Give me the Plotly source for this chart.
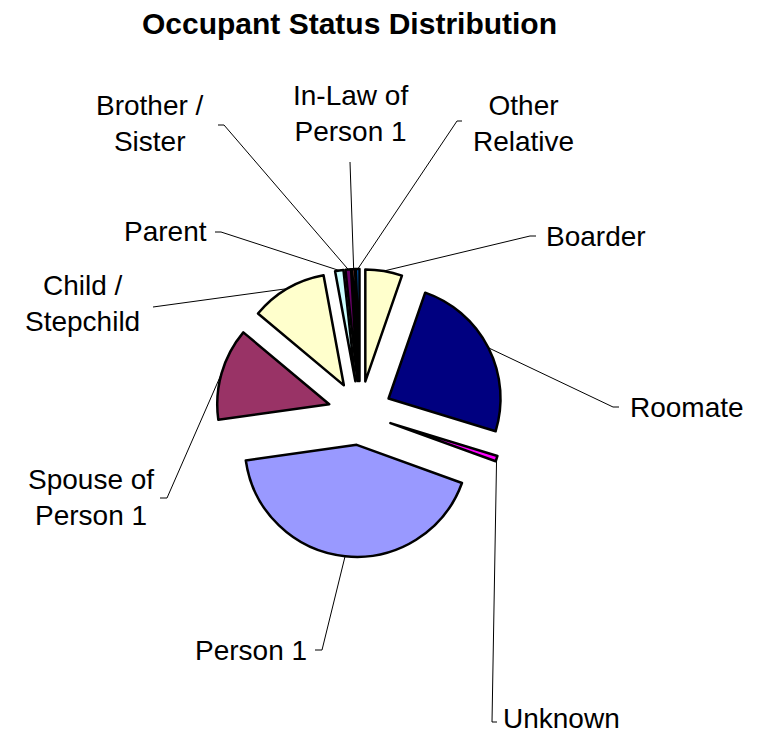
import math
import plotly.graph_objects as go

# ---- data (percent of occupants) ----
categories = ["Person 1", "Spouse of Person 1", "Child / Stepchild", "Parent",
              "Brother / Sister", "In-Law of Person 1", "Other Relative",
              "Boarder", "Roomate", "Unknown"]
values = [42.2, 13.3, 11.0, 1.2, 0.8, 0.4, 0.5, 5.3, 24.4, 0.8]
colors = ["#9999FF", "#993366", "#FFFFCC", "#CCFFFF", "#660066", "#FF8080",
          "#0066CC", "#FFFFCC", "#000080", "#FF00FF"]
label_text = ["Person 1", "Spouse of<br>Person 1", "Child /<br>Stepchild", "Parent",
              "Brother /<br>Sister", "In-Law of<br>Person 1", "Other<br>Relative",
              "Boarder", "Roomate", "Unknown"]

# ---- layout geometry (pixels) ----
W, H = 758, 735
CX, CY = 360, 413          # pie centre
HALF = 144                 # half of the pie domain
PULL = 0.286
R = HALF / (1 + PULL)

total = sum(values)
# first slice (Boarder) at 12 o'clock
start_idx = categories.index("Boarder")
rotation = -sum(values[:start_idx]) / total * 360 + 360

# label positions (center of text) and leader-line end points (label side)
label_pos = {
    "Person 1": (251, 650),
    "Spouse of Person 1": (91, 497),
    "Child / Stepchild": (82, 304),
    "Parent": (165, 231),
    "Brother / Sister": (150, 124),
    "In-Law of Person 1": (350, 113),
    "Other Relative": (523, 124),
    "Boarder": (596, 236),
    "Roomate": (687, 407),
    "Unknown": (561, 718),
}
leader_end = {
    "Person 1": [(322, 650), (315, 650)],
    "Spouse of Person 1": [(167, 498), (160, 498)],
    "Child / Stepchild": [(153, 307)],
    "Parent": [(221, 232), (215, 232)],
    "Brother / Sister": [(224, 125), (218, 125)],
    "In-Law of Person 1": [(350, 162)],
    "Other Relative": [(457, 121), (462, 121)],
    "Boarder": [(530, 236), (536, 236)],
    "Roomate": [(613, 407), (619, 407)],
    "Unknown": [(492, 722), (497, 722)],
}


def px(x):
    return x / W


def py(y):
    return 1 - y / H


fig = go.Figure(go.Pie(
    labels=categories,
    values=values,
    sort=False,
    direction="clockwise",
    rotation=rotation,
    pull=[PULL] * len(values),
    textinfo="none",
    hoverinfo="label+percent",
    marker=dict(colors=colors, line=dict(color="black", width=2.5)),
    domain=dict(x=[px(CX - HALF), px(CX + HALF)], y=[py(CY + HALF), py(CY - HALF)]),
    showlegend=False,
))

shapes = []
annotations = []
cum = 0.0
font = dict(family="Liberation Sans, Arial, sans-serif", size=28, color="black")
for cat, v, txt in zip(categories, values, label_text):
    mid = rotation + (cum + v / 2) / total * 360
    cum += v
    a = math.radians(mid)
    sx = CX + R * (1 + PULL) * math.sin(a)
    sy = CY - R * (1 + PULL) * math.cos(a)
    pts = [(sx, sy)] + leader_end[cat]
    for (x0, y0), (x1, y1) in zip(pts[:-1], pts[1:]):
        shapes.append(dict(type="line", xref="paper", yref="paper",
                           x0=px(x0), y0=py(y0), x1=px(x1), y1=py(y1),
                           line=dict(color="black", width=1)))
    lx, ly = label_pos[cat]
    annotations.append(dict(text=txt, x=px(lx), y=py(ly), xref="paper", yref="paper",
                            xanchor="center", yanchor="middle", showarrow=False,
                            font=font, align="center"))

annotations.append(dict(text="<b>Occupant Status Distribution</b>", x=px(349), y=py(24),
                        xref="paper", yref="paper", xanchor="center", yanchor="middle",
                        showarrow=False,
                        font=dict(family="Liberation Sans, Arial, sans-serif", size=30,
                                  color="black")))

fig.update_layout(
    width=W, height=H,
    margin=dict(l=0, r=0, t=0, b=0),
    paper_bgcolor="white", plot_bgcolor="white",
    shapes=shapes, annotations=annotations,
)
fig.write_html("out.html", config={"displayModeBar": False},
               post_script="document.body.style.margin='0';document.body.style.overflow='hidden';")
